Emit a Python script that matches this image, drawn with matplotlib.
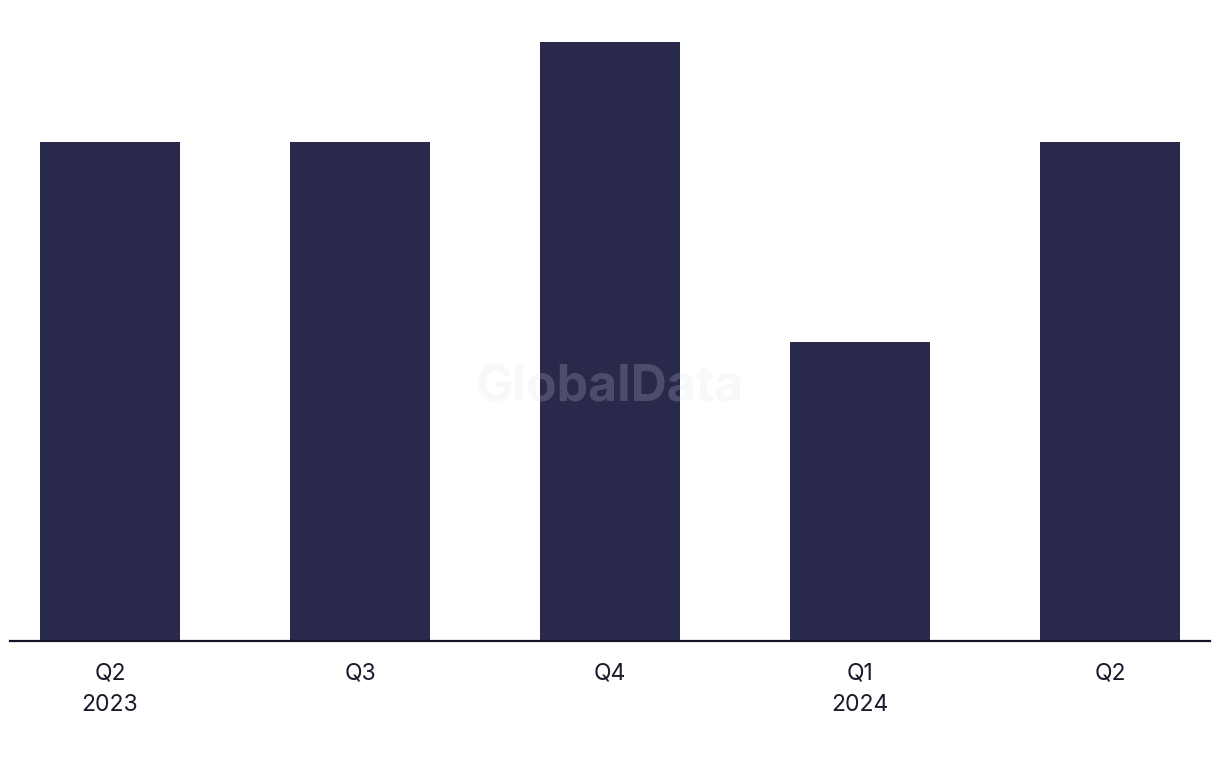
import matplotlib
matplotlib.use("Agg")
import matplotlib.pyplot as plt

quarters = ["Q2\n2023", "Q3", "Q4", "Q1\n2024", "Q2"]
values = [5, 5, 6, 3, 5]

plt.rcParams['font.family'] = ['Inter', 'DejaVu Sans']

fig = plt.figure(figsize=(12.2, 7.68), dpi=100)
ax = fig.add_axes([10 / 1220, 127 / 768, 1200 / 1220, 599 / 768])

x = list(range(len(values)))
ax.bar(x, values, width=0.56, color='#29294b', zorder=2)

ax.set_xlim(-0.4, len(values) - 0.6)
ax.set_ylim(0, 6)

for s in ['top', 'right', 'left']:
    ax.spines[s].set_visible(False)
ax.spines['bottom'].set_color('#15152a')
ax.spines['bottom'].set_linewidth(1.6)
ax.spines['bottom'].set_zorder(3)

ax.set_yticks([])
ax.set_xticks(x)
ax.set_xticklabels(quarters, fontsize=16.5, color='#1a1a2a', linespacing=1.55)
ax.tick_params(axis='x', length=0, pad=15.5)

# watermark
fig.text(0.5, (768 - 388) / 768, "GlobalData", ha='center', va='center',
         fontsize=36, fontweight='bold', color='#e0e0ee', alpha=0.2, zorder=5)

fig.savefig("out.png", dpi=100)
